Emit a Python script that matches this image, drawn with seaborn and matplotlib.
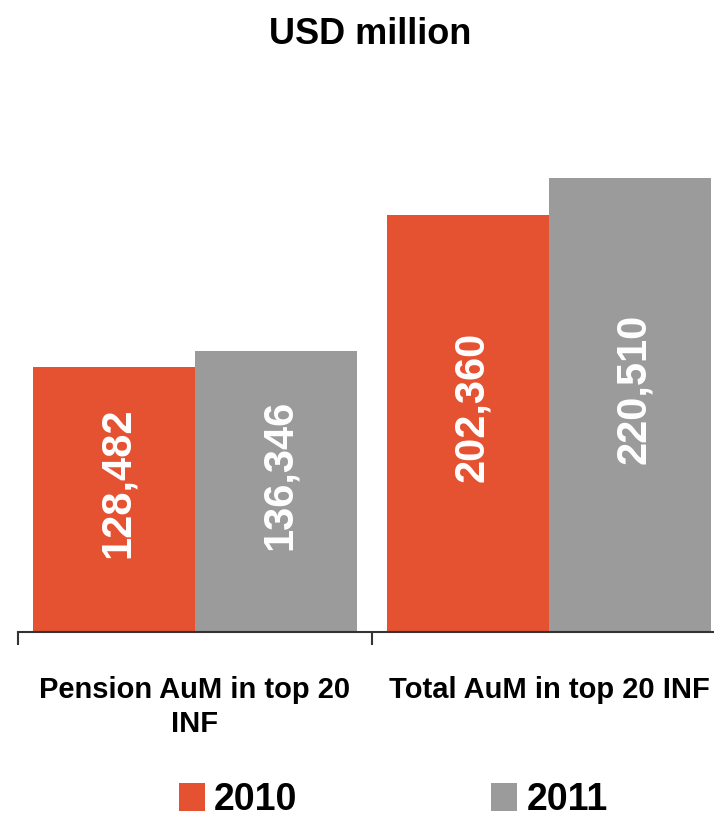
import matplotlib
matplotlib.use("Agg")
import matplotlib.pyplot as plt
import matplotlib.patches as mpatches
import seaborn as sns
import pandas as pd

categories = ["Pension AuM in top 20\nINF", "Total AuM in top 20 INF"]
years = ["2010", "2011"]
values_2010 = [128482, 202360]
values_2011 = [136346, 220510]
colors = ["#E45232", "#9B9B9B"]
title = "USD million"

sns.set_theme(style="white")
FONT = ["Liberation Sans Narrow", "Liberation Sans", "DejaVu Sans"]
plt.rcParams["font.family"] = FONT
plt.rcParams["text.color"] = "black"
plt.rcParams["xtick.color"] = "black"

df = pd.DataFrame({
    "category": categories * 2,
    "year": [years[0]] * 2 + [years[1]] * 2,
    "value": values_2010 + values_2011,
})

fig = plt.figure(figsize=(7.14, 8.21), dpi=100)
ax = fig.add_axes([18 / 714, 1 - 632 / 821, 708 / 714, (632 - 150) / 821])

sns.barplot(data=df, x="category", y="value", hue="year", order=categories,
            hue_order=years, palette=colors, width=0.915, saturation=1,
            errorbar=None, ax=ax, legend=False, linewidth=0)

ax.set_xlim(-0.5, 1.5)
ax.set_ylim(0, 234000)
ax.set_xlabel("")
ax.set_ylabel("")
ax.set_yticks([])
for s in ["top", "right", "left"]:
    ax.spines[s].set_visible(False)
ax.spines["bottom"].set_color("#333333")
ax.spines["bottom"].set_linewidth(1.5)

ax.set_xticks([0, 1])
ax.set_xticklabels(categories, fontsize=21, fontweight="bold", linespacing=1.25)
ax.tick_params(axis="x", which="major", length=0, pad=32)
ax.set_xticks([-0.5, 0.5, 1.5], minor=True)
ax.tick_params(axis="x", which="minor", length=9, width=1.5, color="#333333", direction="out", bottom=True)

for cont in ax.containers:
    for bar in cont:
        h = bar.get_height()
        ax.text(bar.get_x() + bar.get_width() / 2 + 0.01, h / 2 + 8000, f"{h:,.0f}",
                rotation=90, ha="center", va="center", color="white",
                fontsize=30, fontweight="bold")

fig.text(0.518, 1 - 35 / 821, title, ha="center", va="center",
         fontsize=26, fontweight="bold")

handles = [mpatches.Patch(color=c, label=y, linewidth=0) for c, y in zip(colors, years)]
fig.legend(handles=handles, loc="center", bbox_to_anchor=(0.551, 1 - 800 / 821),
           ncol=2, frameon=False, prop={"size": 27, "weight": "bold"},
           handlelength=0.68, handleheight=0.8, handletextpad=0.25,
           columnspacing=5.17, borderpad=0)

fig.savefig("out.png", dpi=100)
